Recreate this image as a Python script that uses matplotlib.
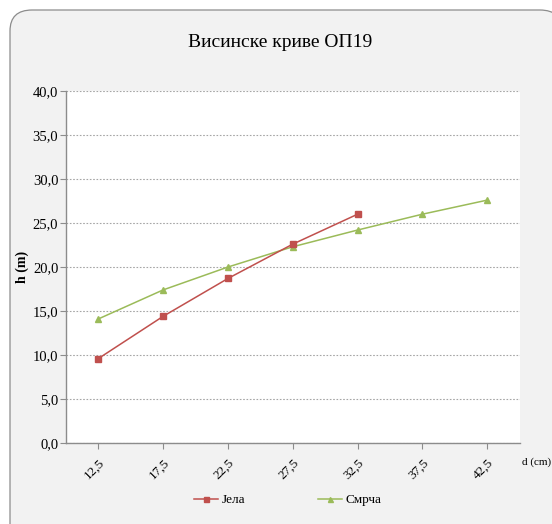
import matplotlib
matplotlib.use("Agg")
import matplotlib.pyplot as plt
from matplotlib.patches import FancyBboxPatch
from matplotlib.ticker import MultipleLocator, FuncFormatter

categories = ["12,5", "17,5", "22,5", "27,5", "32,5", "37,5", "42,5"]
jela = [9.6, 14.4, 18.7, 22.6, 26.0]
smrca = [14.1, 17.4, 20.0, 22.3, 24.2, 26.0, 27.6]

W, H = 552, 524
fig = plt.figure(figsize=(W / 100, H / 100), dpi=100)
fig.patch.set_facecolor("white")

bg = FancyBboxPatch((10 / W, -0.05), 1.0, 1 - 10 / H + 0.05,
                    boxstyle="round,pad=0,rounding_size=0.04",
                    transform=fig.transFigure, facecolor="#f2f2f2",
                    edgecolor="#8c8c8c", linewidth=0.9, zorder=0)
fig.patches.append(bg)

serif = "Liberation Serif"
ax = fig.add_axes([66 / W, 1 - 443 / H, (519.6 - 66) / W, (443 - 91) / H])
ax.set_facecolor("white")
ax.set_zorder(2)

xj = list(range(len(jela)))
xs = list(range(len(smrca)))
ax.plot(xj, jela, color="#c0504d", marker="s", markersize=4.5, linewidth=1.1,
        label="Јела", zorder=4)
ax.plot(xs, smrca, color="#9bbb59", marker="^", markersize=4.5, linewidth=1.1,
        label="Смрча", zorder=3)

ax.set_xlim(-0.5, len(categories) - 0.5)
ax.set_ylim(0, 40)
ax.yaxis.set_major_locator(MultipleLocator(5))
ax.yaxis.set_major_formatter(FuncFormatter(lambda v, p: f"{v:.1f}".replace(".", ",")))
ax.set_xticks(xs)
ax.set_xticklabels(categories, rotation=45, ha="right", rotation_mode="anchor",
                   fontfamily=serif, fontsize=9.5)
for lab in ax.get_yticklabels():
    lab.set_fontfamily(serif)
    lab.set_fontsize(10.5)

ax.grid(axis="y", linestyle=(0, (1.5, 1.5)), color="#a6a6a6", linewidth=0.8)
ax.set_axisbelow(True)
for s in ["top", "right"]:
    ax.spines[s].set_visible(False)
for s in ["left", "bottom"]:
    ax.spines[s].set_color("#8c8c8c")
    ax.spines[s].set_linewidth(1.0)
ax.tick_params(axis="both", colors="#8c8c8c", length=4, width=0.8,
               labelcolor="black", direction="out")
ax.tick_params(axis="x", pad=6)
ax.tick_params(axis="y", pad=1.5)

ax.set_ylabel("h (m)", fontfamily=serif, fontsize=10, fontweight="bold", labelpad=3)
fig.text(522 / W, 1 - 462 / H, "d (cm)", fontfamily=serif, fontsize=8,
         ha="left", va="center")
fig.text(280 / W, 1 - 43 / H, "Висинске криве ОП19", fontfamily=serif,
         fontsize=14, ha="center", va="center")

leg = fig.legend(loc="center", bbox_to_anchor=(288 / W, 1 - 500 / H), ncol=2,
                 frameon=False, prop={"family": serif, "size": 9.5},
                 handlelength=1.8, columnspacing=5.5, handletextpad=0.3,
                 markerscale=0.8)

fig.savefig("out.png", dpi=100, facecolor=fig.get_facecolor())
